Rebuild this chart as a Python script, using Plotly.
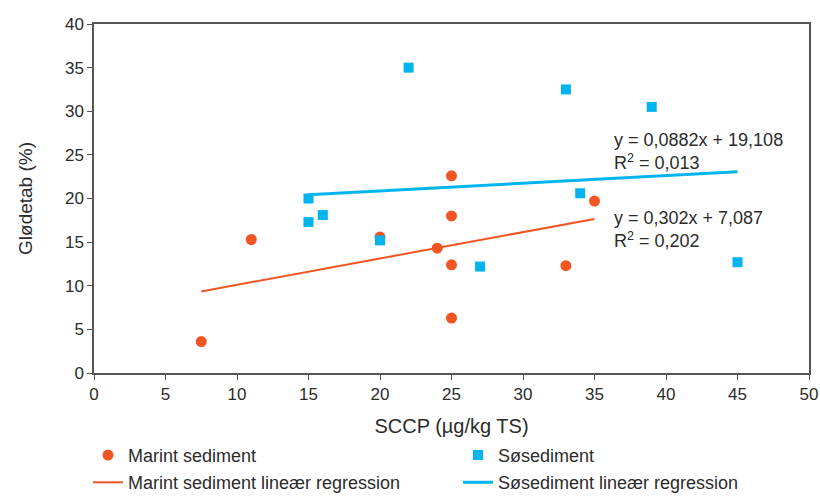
import plotly.graph_objects as go

# Data
marint_x = [7.5, 11, 20, 24, 25, 25, 25, 25, 33, 35]
marint_y = [3.6, 15.3, 15.6, 14.3, 22.6, 18.0, 12.4, 6.3, 12.3, 19.7]
so_x = [22, 33, 39, 15, 15, 16, 20, 27, 34, 45]
so_y = [35.0, 32.5, 30.5, 20.0, 17.3, 18.1, 15.2, 12.2, 20.6, 12.7]

marint_slope, marint_icpt = 0.302, 7.087
so_slope, so_icpt = 0.0882, 19.108

orange = "#F15522"
blue = "#00B5EF"
font = "Liberation Sans, Arial, sans-serif"
txt = "#2b2b2b"

mx = [min(marint_x), max(marint_x)]
my = [marint_slope * v + marint_icpt for v in mx]
sx = [min(so_x), max(so_x)]
sy = [so_slope * v + so_icpt for v in sx]

fig = go.Figure()
fig.add_trace(go.Scatter(x=marint_x, y=marint_y, mode="markers", name="Marint sediment",
                         marker=dict(symbol="circle", size=11, color=orange), legend="legend"))
fig.add_trace(go.Scatter(x=so_x, y=so_y, mode="markers", name="Søsediment",
                         marker=dict(symbol="square", size=10, color=blue), legend="legend"))
fig.add_trace(go.Scatter(x=mx, y=my, mode="lines", name="Marint sediment lineær regression",
                         line=dict(color=orange, width=2), legend="legend2"))
fig.add_trace(go.Scatter(x=sx, y=sy, mode="lines", name="Søsediment lineær regression",
                         line=dict(color=blue, width=3), legend="legend2"))

fig.add_annotation(x=36.2, y=25.4, xref="x", yref="y", xanchor="left", yanchor="middle",
                   text="y = 0,0882x + 19,108<br>R<sup>2</sup> = 0,013", align="left",
                   showarrow=False, font=dict(family=font, size=18, color=txt))
fig.add_annotation(x=36.2, y=16.4, xref="x", yref="y", xanchor="left", yanchor="middle",
                   text="y = 0,302x + 7,087<br>R<sup>2</sup> = 0,202", align="left",
                   showarrow=False, font=dict(family=font, size=18, color=txt))

axis_common = dict(showgrid=False, zeroline=False, showline=True, linecolor="#555555",
                   linewidth=1.5, mirror=True, ticks="outside", ticklen=5, tickcolor="#555555",
                   tickfont=dict(family=font, size=17, color=txt), automargin=False,
                   ticklabeloverflow="allow")

fig.update_layout(
    width=820, height=497,
    margin=dict(l=94, r=11, t=24, b=124, autoexpand=False),
    paper_bgcolor="white", plot_bgcolor="white",
    xaxis=dict(range=[0, 50], dtick=5, title=dict(text="SCCP (µg/kg TS)", standoff=16,
               font=dict(family=font, size=20, color=txt)), **axis_common),
    yaxis=dict(range=[0, 40], dtick=5, title=dict(text="Glødetab (%)", standoff=27,
               font=dict(family=font, size=19, color=txt)), **axis_common),
    legend=dict(orientation="h", x=-0.0084, y=-0.183, xanchor="left", yanchor="top",
                entrywidth=325, entrywidthmode="pixels", font=dict(family=font, size=18, color=txt),
                bgcolor="rgba(0,0,0,0)"),
    legend2=dict(orientation="h", x=-0.0084, y=-0.261, xanchor="left", yanchor="top",
                 entrywidth=325, entrywidthmode="pixels", font=dict(family=font, size=18, color=txt),
                 bgcolor="rgba(0,0,0,0)"),
    showlegend=True,
)

fig.write_html("out.html", config={"displayModeBar": False},
               post_script="document.body.style.margin='0';document.body.style.overflow='hidden';")
